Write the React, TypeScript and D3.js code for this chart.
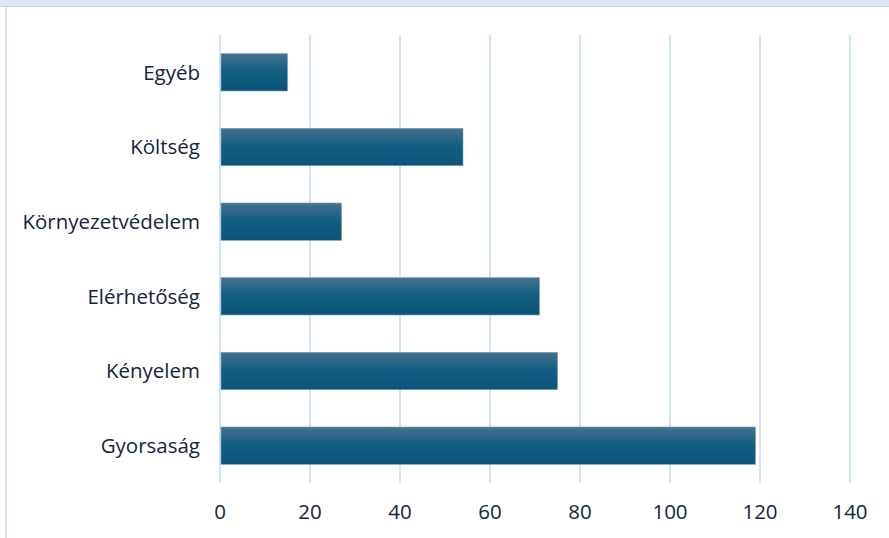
import React, { useRef, useEffect } from 'react'
import * as d3 from 'd3'

const categories = ['Egyéb', 'Költség', 'Környezetvédelem', 'Elérhetőség', 'Kényelem', 'Gyorsaság']
const values = [15, 54, 27, 71, 75, 119]
const xTicks = [0, 20, 40, 60, 80, 100, 120, 140]

const width = 889
const height = 538
const margin = { top: 35, right: 39, bottom: 55, left: 220 }

const App: React.FC = () => {
  const svgRef = useRef<SVGSVGElement | null>(null)

  useEffect(() => {
    if (!svgRef.current) return
    const svg = d3.select(svgRef.current)
    svg.selectAll('*').remove()

    const iw = width - margin.left - margin.right
    const ih = height - margin.top - margin.bottom

    const x = d3.scaleLinear().domain([0, 140]).range([0, iw])
    const y = d3.scaleBand<string>().domain(categories).range([0, ih]).paddingInner(0.5).paddingOuter(0.25)

    // background + frame
    svg.append('rect').attr('width', width).attr('height', height).attr('fill', '#ffffff')
    svg.append('rect').attr('x', 0).attr('y', 0).attr('width', width).attr('height', 6).attr('fill', '#dfe6f3')
    svg.append('line').attr('x1', 0).attr('x2', width).attr('y1', 6.5).attr('y2', 6.5)
      .attr('stroke', '#c7d4e6').attr('stroke-width', 1.2)
    svg.append('line').attr('x1', 6).attr('x2', 6).attr('y1', 7).attr('y2', height)
      .attr('stroke', '#d5e2f3').attr('stroke-width', 2)

    const defs = svg.append('defs')
    const grad = defs.append('linearGradient')
      .attr('id', 'barGrad').attr('x1', 0).attr('x2', 0).attr('y1', 0).attr('y2', 1)
    grad.append('stop').attr('offset', '0%').attr('stop-color', '#47728f')
    grad.append('stop').attr('offset', '45%').attr('stop-color', '#135f84')
    grad.append('stop').attr('offset', '100%').attr('stop-color', '#0b5678')

    const chart = svg.append('g').attr('transform', `translate(${margin.left},${margin.top})`)

    // gridlines
    chart.selectAll('line.grid')
      .data(xTicks)
      .join('line')
      .attr('class', 'grid')
      .attr('x1', d => x(d)).attr('x2', d => x(d))
      .attr('y1', 0).attr('y2', ih)
      .attr('stroke', '#cde0f8')
      .attr('stroke-width', 1.8)

    // bars
    chart.selectAll('rect.bar')
      .data(categories)
      .join('rect')
      .attr('class', 'bar')
      .attr('x', x(0) + 1)
      .attr('y', d => y(d)!)
      .attr('width', (d, i) => x(values[i]) - x(0) - 1)
      .attr('height', y.bandwidth())
      .attr('fill', 'url(#barGrad)')
      .attr('stroke', '#7d9db5')
      .attr('stroke-width', 0.6)

    // category labels
    chart.selectAll('text.cat')
      .data(categories)
      .join('text')
      .attr('class', 'cat')
      .attr('x', -20)
      .attr('y', d => y(d)! + y.bandwidth() / 2)
      .attr('dy', '0.35em')
      .attr('text-anchor', 'end')
      .style('font-family', '"Open Sans", sans-serif')
      .style('font-size', '20.5px')
      .style('fill', '#14243d')
      .text(d => d)

    // x tick labels
    chart.selectAll('text.tick')
      .data(xTicks)
      .join('text')
      .attr('class', 'tick')
      .attr('x', d => x(d))
      .attr('y', ih + 29)
      .attr('dy', '0.35em')
      .attr('text-anchor', 'middle')
      .style('font-family', '"Open Sans", sans-serif')
      .style('font-size', '20.5px')
      .style('fill', '#14243d')
      .text(d => d)
  }, [])

  return <svg ref={svgRef} width={width} height={height} style={{ position: 'absolute', left: 0, top: 0 }} />
}

export default App
